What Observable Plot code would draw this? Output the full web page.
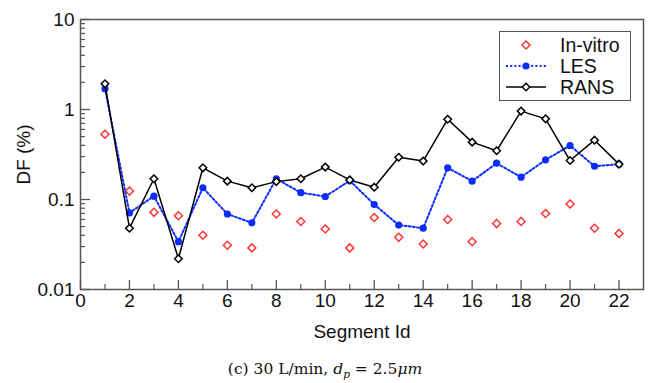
<!DOCTYPE html>
<html><head><meta charset="utf-8">
<script src="https://cdn.jsdelivr.net/npm/d3@7"></script>
<script src="https://cdn.jsdelivr.net/npm/@observablehq/plot@0.6"></script>
<style>
body{margin:0;background:#fff;}
#wrap{position:relative;width:650px;height:383px;font-family:"Liberation Sans",Arial,sans-serif;}
#legend{position:absolute;left:499px;top:31px;width:132px;height:70px;border:1.5px solid #555;background:#fff;box-sizing:border-box;}
.row{position:absolute;left:4px;height:20px;line-height:20px;display:flex;align-items:center;font-size:19.5px;color:#111;}
.row svg{margin-right:12px;}
#caption{position:absolute;top:360px;left:0;width:650px;text-align:center;font-family:"DejaVu Serif","Liberation Serif",serif;font-size:15.5px;line-height:18px;color:#111;}
#caption i{font-style:italic;}
</style></head>
<body>
<div id="wrap">
<div id="chart"></div>
<div id="legend"></div>
<div id="caption">(c) 30 L/min, <i>d</i><sub style="font-size:10.5px;line-height:0"><i>p</i></sub> = 2.5<i>μm</i></div>
</div>
<script>
const segment = [1,2,3,4,5,6,7,8,9,10,11,12,13,14,15,16,17,18,19,20,21,22];
const inVitro = [0.53,0.124,0.072,0.066,0.040,0.031,0.029,0.069,0.057,0.047,0.029,0.063,0.038,0.032,0.060,0.034,0.054,0.057,0.070,0.089,0.048,0.042];
const les     = [1.70,0.071,0.109,0.034,0.135,0.069,0.055,0.170,0.119,0.108,0.162,0.088,0.052,0.048,0.225,0.160,0.253,0.177,0.276,0.398,0.234,0.247];
const rans    = [1.93,0.048,0.170,0.022,0.225,0.160,0.135,0.158,0.170,0.229,0.165,0.137,0.295,0.267,0.78,0.434,0.348,0.96,0.787,0.271,0.456,0.247];
const seriesNames = ["In-vitro","LES","RANS"];
const xTicks = [0,2,4,6,8,10,12,14,16,18,20,22];
const xMinor = [1,3,5,7,9,11,13,15,17,19,21];
const yTicks = [0.01,0.1,1,10];
const yMinor = [0.02,0.03,0.04,0.05,0.06,0.07,0.08,0.09,0.2,0.3,0.4,0.5,0.6,0.7,0.8,0.9,2,3,4,5,6,7,8,9];

const data = segment.map((s,i)=>({s, v: inVitro[i], l: les[i], r: rans[i]}));
const W = 650, H = 383, mL = 80, mR = 7, mT = 19, mB = 94;
const pw = W - mL - mR, ph = H - mT - mB;
const axisCol = "#555";
const red = "#ff3535", blue = "#0a2cff";
const dash = "2,2.2";

const chart = Plot.plot({
  width: W, height: H,
  marginLeft: mL, marginRight: mR, marginTop: mT, marginBottom: mB,
  style: {fontFamily: "Liberation Sans, Arial, sans-serif", fontSize: "19px", color: "#111", background: "#fff"},
  x: {domain: [0,23]},
  y: {type: "log", domain: [0.01,10]},
  marks: [
    Plot.tickY(yTicks, {y: d=>d, stroke: axisCol, strokeWidth: 1.3, insetRight: pw - 10}),
    Plot.tickY(yMinor, {y: d=>d, stroke: axisCol, strokeWidth: 1.2, insetRight: pw - 5}),
    Plot.tickX(xTicks, {x: d=>d, stroke: axisCol, strokeWidth: 1.3, insetTop: ph - 9}),
    Plot.tickX(xMinor, {x: d=>d, stroke: axisCol, strokeWidth: 1.2, insetTop: ph - 5}),
    Plot.axisY({ticks: yTicks, tickSize: 0, tickPadding: 6, tickFormat: d=>String(d), label: "DF (%)", labelAnchor: "center", labelOffset: 64, labelArrow: "none"}),
    Plot.axisX({ticks: xTicks, tickSize: 0, tickPadding: 4, tickFormat: d=>String(d), label: "Segment Id", labelAnchor: "center", labelOffset: 48, labelArrow: "none"}),
    Plot.frame({stroke: axisCol, strokeWidth: 1.5}),
    Plot.dot(data, {x: "s", y: "v", symbol: "diamond2", r: 3.6, stroke: red, strokeWidth: 1.5, fill: "white"}),
    Plot.line(data, {x: "s", y: "l", stroke: blue, strokeWidth: 2, strokeDasharray: dash}),
    Plot.dot(data, {x: "s", y: "l", r: 3.6, fill: blue, stroke: "none"}),
    Plot.line(data, {x: "s", y: "r", stroke: "#000", strokeWidth: 1.5}),
    Plot.dot(data, {x: "s", y: "r", symbol: "diamond2", r: 3.4, stroke: "#000", strokeWidth: 1.5, fill: "white"})
  ]
});
document.getElementById("chart").appendChild(chart);

// legend
const legend = document.getElementById("legend");
const tops = [3, 24, 45];
const sym = [
  `<svg width="44" height="20"><path d="M22,6 L26,10 L22,14 L18,10 Z" fill="white" stroke="${red}" stroke-width="1.5"/></svg>`,
  `<svg width="44" height="20"><line x1="2" y1="10" x2="42" y2="10" stroke="${blue}" stroke-width="2" stroke-dasharray="${dash}"/><circle cx="22" cy="10" r="3.6" fill="${blue}"/></svg>`,
  `<svg width="44" height="20"><line x1="2" y1="10" x2="42" y2="10" stroke="#000" stroke-width="1.5"/><path d="M22,6.2 L25.8,10 L22,13.8 L18.2,10 Z" fill="white" stroke="#000" stroke-width="1.5"/></svg>`
];
seriesNames.forEach((n,i)=>{
  const d = document.createElement("div");
  d.className = "row";
  d.style.top = tops[i] + "px";
  d.innerHTML = sym[i] + `<span>${n}</span>`;
  legend.appendChild(d);
});
</script>
</body></html>
